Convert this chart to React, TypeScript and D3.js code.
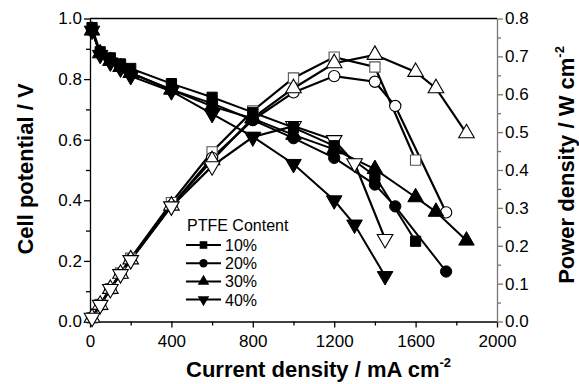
import React, { useEffect, useRef } from 'react';
import * as d3 from 'd3';

// current density (mA cm-2), cell potential (V), power density (W cm-2)
const current10 = [10, 50, 100, 150, 200, 400, 600, 800, 1000, 1200, 1400, 1600];
const volt10 = [0.97, 0.89, 0.87, 0.85, 0.835, 0.785, 0.74, 0.69, 0.64, 0.58, 0.48, 0.265];
const power10 = [0.01, 0.045, 0.087, 0.128, 0.167, 0.314, 0.448, 0.556, 0.643, 0.698, 0.672, 0.426];

const current20 = [10, 50, 100, 150, 200, 400, 600, 800, 1000, 1200, 1400, 1500, 1750];
const volt20 = [0.96, 0.885, 0.86, 0.84, 0.82, 0.765, 0.72, 0.665, 0.605, 0.54, 0.452, 0.38, 0.165];
const power20 = [0.01, 0.044, 0.086, 0.126, 0.164, 0.306, 0.432, 0.532, 0.605, 0.648, 0.633, 0.569, 0.288];

const current30 = [10, 50, 100, 150, 200, 400, 600, 800, 1000, 1200, 1400, 1600, 1700, 1850];
const volt30 = [0.96, 0.885, 0.86, 0.84, 0.82, 0.765, 0.71, 0.67, 0.616, 0.568, 0.503, 0.41, 0.362, 0.267];
const power30 = [0.01, 0.044, 0.086, 0.126, 0.164, 0.306, 0.426, 0.537, 0.616, 0.682, 0.704, 0.659, 0.616, 0.497];

const current40 = [10, 50, 100, 150, 200, 400, 600, 800, 1000, 1200, 1300, 1450];
const volt40 = [0.96, 0.88, 0.855, 0.835, 0.81, 0.76, 0.685, 0.61, 0.52, 0.4, 0.32, 0.15];
const power40 = [0.01, 0.044, 0.086, 0.125, 0.162, 0.304, 0.41, 0.487, 0.516, 0.479, 0.418, 0.218];

const legendLabels = ['10%', '20%', '30%', '40%'];
const xTicks = [0, 400, 800, 1200, 1600, 2000];
const leftTicks = [0, 0.2, 0.4, 0.6, 0.8, 1.0];
const rightTicks = [0, 0.1, 0.2, 0.3, 0.4, 0.5, 0.6, 0.7, 0.8];

const FONT = '"Liberation Sans", Arial, sans-serif';

function App() {
  const svgRef = useRef(null);

  useEffect(() => {
    const svg = d3.select(svgRef.current);
    svg.selectAll('*').remove();

    const left = 90, right = 497, top = 18.5, bottom = 321.5;
    const x = d3.scaleLinear().domain([0, 2000]).range([left, right]);
    const yL = d3.scaleLinear().domain([0, 1]).range([bottom, top]);
    const yR = d3.scaleLinear().domain([0, 0.8]).range([bottom, top]);

    const series = [
      { cur: current10, v: volt10, p: power10, shape: 'square' },
      { cur: current20, v: volt20, p: power20, shape: 'circle' },
      { cur: current30, v: volt30, p: power30, shape: 'up' },
      { cur: current40, v: volt40, p: power40, shape: 'down' },
    ];

    const symFor = (shape, scale = 1) => {
      if (shape === 'square') return d3.symbol(d3.symbolSquare, 105 * scale)();
      if (shape === 'circle') return d3.symbol(d3.symbolCircle, 100 * scale)();
      return d3.symbol(d3.symbolTriangle, 105 * scale)();
    };
    const rot = (shape) => (shape === 'down' ? ' rotate(180)' : '');

    // frame top line
    svg.append('line')
      .attr('x1', left).attr('x2', right).attr('y1', top).attr('y2', top)
      .attr('stroke', '#000').attr('stroke-width', 1.3);

    // bottom axis
    const gx = svg.append('g').attr('transform', `translate(0,${bottom})`)
      .call(d3.axisBottom(x).tickValues(xTicks).tickSize(6).tickSizeOuter(0).tickFormat(d3.format('d')));
    svg.append('g').attr('transform', `translate(0,${bottom})`)
      .call(d3.axisBottom(x).tickValues(d3.range(200, 2000, 400)).tickSize(4).tickFormat(() => ''))
      .call(g => g.select('.domain').remove());
    gx.selectAll('text').attr('font-size', 17).attr('font-family', FONT).attr('dy', '0.95em').attr('y', 9);

    // left axis
    const gl = svg.append('g').attr('transform', `translate(${left},0)`)
      .call(d3.axisLeft(yL).tickValues(leftTicks).tickSize(6).tickSizeOuter(0).tickFormat(d3.format('.1f')));
    svg.append('g').attr('transform', `translate(${left},0)`)
      .call(d3.axisLeft(yL).tickValues(d3.range(0.1, 1, 0.2)).tickSize(4).tickFormat(() => ''))
      .call(g => g.select('.domain').remove());
    gl.selectAll('text').attr('font-size', 17).attr('font-family', FONT).attr('x', -8);

    // right axis (grey)
    const gr = svg.append('g').attr('transform', `translate(${right},0)`)
      .call(d3.axisRight(yR).tickValues(rightTicks).tickSize(6).tickSizeOuter(0).tickFormat(d3.format('.1f')));
    const grMinor = svg.append('g').attr('transform', `translate(${right},0)`)
      .call(d3.axisRight(yR).tickValues(d3.range(0.05, 0.8, 0.1)).tickSize(4).tickFormat(() => ''))
      .call(g => g.select('.domain').remove());
    gr.selectAll('text').attr('font-size', 17).attr('font-family', FONT).attr('x', 8);

    svg.selectAll('.domain, .tick line').attr('stroke-width', 1.3);
    gr.selectAll('.domain, .tick line').attr('stroke', '#777');
    grMinor.selectAll('.tick line').attr('stroke', '#777');

    const plot = svg.append('g');

    // power density curves (open markers)
    series.forEach(s => {
      const pts = s.cur.map((c, i) => [x(c), yR(s.p[i])]);
      plot.append('path').attr('d', d3.line()(pts))
        .attr('fill', 'none').attr('stroke', '#000').attr('stroke-width', 2.2);
    });
    // cell potential curves (filled markers)
    series.forEach(s => {
      const pts = s.cur.map((c, i) => [x(c), yL(s.v[i])]);
      plot.append('path').attr('d', d3.line()(pts))
        .attr('fill', 'none').attr('stroke', '#000').attr('stroke-width', 2);
    });
    series.forEach(s => {
      s.cur.forEach((c, i) => {
        plot.append('path').attr('d', symFor(s.shape))
          .attr('transform', `translate(${x(c)},${yR(s.p[i])})${rot(s.shape)}`)
          .attr('fill', '#fff')
          .attr('stroke', s.shape === 'square' ? '#555' : '#000').attr('stroke-width', 1.1);
      });
    });
    series.forEach(s => {
      s.cur.forEach((c, i) => {
        plot.append('path').attr('d', symFor(s.shape))
          .attr('transform', `translate(${x(c)},${yL(s.v[i])})${rot(s.shape)}`)
          .attr('fill', '#000').attr('stroke', '#000').attr('stroke-width', 1);
      });
    });

    // legend
    const lg = svg.append('g');
    lg.append('text').attr('x', 187).attr('y', 231).text('PTFE Content')
      .attr('font-size', 16).attr('font-family', FONT);
    series.forEach((s, i) => {
      const ly = 245 + i * 18.2;
      lg.append('line').attr('x1', 186).attr('x2', 221).attr('y1', ly).attr('y2', ly)
        .attr('stroke', '#000').attr('stroke-width', 2);
      lg.append('path').attr('d', symFor(s.shape, 0.55))
        .attr('transform', `translate(203.5,${ly})${rot(s.shape)}`).attr('fill', '#000');
      lg.append('text').attr('x', 225).attr('y', ly + 6).text(legendLabels[i])
        .attr('font-size', 16).attr('font-family', FONT);
    });

    // axis titles
    const bt = svg.append('text').attr('x', 186).attr('y', 377)
      .attr('font-size', 22).attr('font-weight', 'bold').attr('font-family', FONT);
    bt.append('tspan').text('Current density / mA cm');
    bt.append('tspan').text('-2').attr('font-size', 13).attr('dy', -10);

    svg.append('text').attr('transform', 'translate(33,169) rotate(-90)')
      .attr('text-anchor', 'middle').attr('font-size', 22).attr('font-weight', 'bold')
      .attr('font-family', FONT).text('Cell potential / V');

    const rt = svg.append('text').attr('transform', 'translate(574,165) rotate(-90)')
      .attr('text-anchor', 'middle').attr('font-size', 22).attr('font-weight', 'bold')
      .attr('font-family', FONT);
    rt.append('tspan').text('Power density / W cm');
    rt.append('tspan').text('-2').attr('font-size', 13).attr('dy', -10);
  }, []);

  return (
    <svg ref={svgRef} width={579} height={384}
      style={{ position: 'absolute', left: 0, top: 0, background: '#fff' }} />
  );
}

export default App;
